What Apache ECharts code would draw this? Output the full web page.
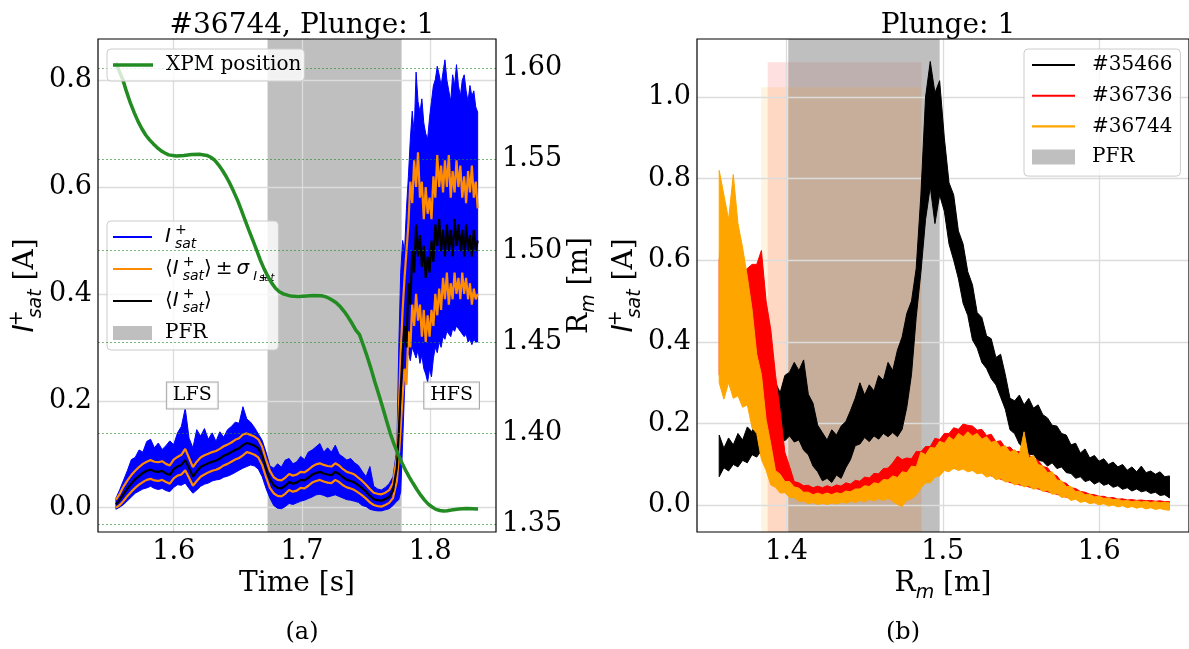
<!DOCTYPE html>
<html>
<head>
<meta charset="utf-8">
<script src="https://cdn.jsdelivr.net/npm/echarts@6/dist/echarts.min.js"></script>
<style>
  html, body { margin: 0; padding: 0; background: #fff; }
  #c { width: 1189px; height: 649px; }
</style>
</head>
<body>
<div id="c"></div>
<script>
// ---------- panel (a): ion saturation current of shot #36744, plunge 1 ----------
const tSec = [
  1.555,1.558,1.561,1.564,1.567,1.570,1.573,1.576,1.579,1.582,
  1.585,1.588,1.591,1.594,1.597,1.600,1.603,1.606,1.609,1.612,
  1.615,1.618,1.621,1.624,1.627,1.630,1.633,1.636,1.639,1.642,
  1.645,1.648,1.651,1.654,1.657,1.660,1.663,1.666,1.669,1.672,
  1.675,1.678,1.681,1.684,1.687,1.690,1.693,1.696,1.699,1.702,
  1.705,1.708,1.711,1.714,1.717,1.720,1.723,1.726,1.729,1.732,
  1.735,1.738,1.741,1.744,1.747,1.750,1.753,1.756,1.759,1.762,
  1.765,1.768,1.771,1.774,
  1.7755,1.777,1.7785,1.780,1.7815,1.783,1.7845,1.786,1.7875,1.789,
  1.7905,1.792,1.7935,1.795,1.7965,1.798,1.7995,1.801,1.8025,1.804,
  1.8055,1.807,1.8085,1.810,1.8115,1.813,1.8145,1.816,1.8175,1.819,
  1.8205,1.822,1.8235,1.825,1.8265,1.828,1.8295,1.831,1.8325,1.834,
  1.8355,1.837
];
// <I_sat>
const isatMean = [
  0.006,0.015,0.026,0.036,0.045,0.053,0.059,0.065,0.069,0.071,
  0.068,0.067,0.069,0.064,0.061,0.072,0.077,0.080,0.089,0.074,
  0.058,0.068,0.076,0.080,0.083,0.086,0.088,0.092,0.097,0.100,
  0.104,0.108,0.111,0.117,0.121,0.119,0.116,0.111,0.097,0.073,
  0.053,0.042,0.037,0.036,0.041,0.048,0.045,0.047,0.052,0.051,
  0.056,0.062,0.065,0.067,0.064,0.062,0.061,0.067,0.063,0.057,
  0.052,0.050,0.047,0.042,0.036,0.030,0.022,0.016,0.014,0.013,
  0.016,0.020,0.032,0.075,
  0.140,0.220,0.290,0.340,0.300,0.420,0.380,0.480,0.440,0.530,
  0.470,0.510,0.450,0.490,0.430,0.470,0.440,0.500,0.460,0.530,
  0.490,0.540,0.480,0.520,0.470,0.530,0.480,0.520,0.470,0.540,
  0.490,0.530,0.480,0.520,0.470,0.530,0.480,0.510,0.470,0.520,
  0.480,0.500
];
// <I_sat> + sigma
const isatUpper = [
  0.015,0.026,0.040,0.051,0.061,0.069,0.076,0.082,0.086,0.089,
  0.086,0.085,0.087,0.082,0.079,0.090,0.095,0.099,0.110,0.093,
  0.076,0.086,0.094,0.098,0.101,0.104,0.106,0.110,0.115,0.118,
  0.122,0.127,0.130,0.137,0.139,0.136,0.133,0.128,0.114,0.090,
  0.069,0.057,0.052,0.051,0.056,0.063,0.060,0.062,0.067,0.066,
  0.071,0.077,0.081,0.083,0.080,0.078,0.077,0.083,0.079,0.072,
  0.067,0.065,0.062,0.056,0.050,0.043,0.035,0.028,0.026,0.025,
  0.028,0.033,0.046,0.095,
  0.180,0.290,0.370,0.430,0.480,0.530,0.610,0.570,0.650,0.600,
  0.665,0.580,0.610,0.540,0.600,0.550,0.580,0.540,0.620,0.580,
  0.660,0.600,0.640,0.590,0.650,0.600,0.660,0.580,0.630,0.590,
  0.650,0.600,0.640,0.580,0.620,0.570,0.630,0.590,0.640,0.580,
  0.610,0.560
];
// <I_sat> - sigma
const isatLower = [
  0.000,0.005,0.013,0.022,0.030,0.037,0.043,0.048,0.052,0.054,
  0.051,0.050,0.052,0.048,0.045,0.055,0.060,0.062,0.070,0.056,
  0.041,0.050,0.058,0.062,0.066,0.069,0.071,0.074,0.079,0.082,
  0.086,0.090,0.093,0.098,0.104,0.102,0.099,0.094,0.080,0.057,
  0.037,0.027,0.022,0.021,0.026,0.033,0.030,0.032,0.037,0.036,
  0.041,0.047,0.050,0.052,0.049,0.047,0.046,0.052,0.048,0.042,
  0.038,0.036,0.033,0.028,0.023,0.017,0.010,0.005,0.003,0.002,
  0.005,0.009,0.018,0.050,
  0.095,0.150,0.210,0.260,0.230,0.330,0.300,0.380,0.340,0.400,
  0.350,0.380,0.320,0.370,0.310,0.360,0.320,0.370,0.340,0.400,
  0.360,0.410,0.370,0.430,0.390,0.440,0.380,0.420,0.390,0.440,
  0.400,0.430,0.390,0.440,0.400,0.430,0.390,0.420,0.380,0.410,
  0.390,0.400
];
// raw I_sat: upper and lower envelope of the fluctuating signal
const isatRawHi = [
  0.018,0.034,0.052,0.070,0.090,0.094,0.108,0.104,0.124,0.128,
  0.112,0.121,0.109,0.116,0.125,0.118,0.140,0.152,0.186,0.130,
  0.112,0.146,0.134,0.148,0.128,0.140,0.124,0.142,0.132,0.146,
  0.152,0.160,0.158,0.189,0.166,0.160,0.150,0.138,0.126,0.104,
  0.078,0.074,0.082,0.076,0.089,0.092,0.082,0.086,0.096,0.090,
  0.104,0.108,0.114,0.120,0.104,0.112,0.104,0.117,0.100,0.095,
  0.089,0.092,0.084,0.079,0.068,0.058,0.077,0.040,0.035,0.033,
  0.038,0.045,0.058,0.110,
  0.300,0.440,0.500,0.480,0.560,0.620,0.690,0.742,0.700,0.815,
  0.760,0.740,0.765,0.720,0.700,0.690,0.730,0.760,0.790,0.801,
  0.826,0.810,0.790,0.815,0.838,0.800,0.780,0.760,0.810,0.790,
  0.829,0.790,0.770,0.800,0.810,0.780,0.760,0.790,0.770,0.780,
  0.750,0.740
];
const isatRawLo = [
  -0.003,0.001,0.006,0.013,0.020,0.027,0.031,0.035,0.037,0.040,
  0.036,0.034,0.036,0.032,0.030,0.038,0.043,0.042,0.046,0.036,
  0.027,0.033,0.040,0.044,0.046,0.050,0.052,0.053,0.057,0.059,
  0.062,0.066,0.070,0.074,0.077,0.080,0.078,0.072,0.058,0.036,
  0.018,0.004,-0.001,-0.002,0.002,0.008,0.006,0.009,0.012,0.014,
  0.017,0.020,0.024,0.025,0.023,0.020,0.022,0.024,0.021,0.018,
  0.015,0.014,0.012,0.010,0.004,0.002,-0.003,-0.005,-0.006,-0.006,
  -0.004,-0.002,0.004,0.012,
  0.015,0.030,0.120,0.220,0.280,0.290,0.275,0.300,0.290,0.280,
  0.295,0.270,0.285,0.260,0.250,0.235,0.260,0.245,0.280,0.300,
  0.290,0.310,0.300,0.320,0.315,0.330,0.325,0.320,0.335,0.330,
  0.340,0.335,0.330,0.325,0.320,0.325,0.310,0.315,0.305,0.315,
  0.310,0.310
];
// reciprocating probe (XPM) major radius during the plunge
const xpmTime = [
  1.5550,1.5575,1.5604,1.5633,1.5663,1.5693,1.5723,1.5752,1.5782,1.5812,
  1.5842,1.5871,1.5901,1.5931,1.5961,1.6020,1.6080,1.6140,1.6200,1.6259,
  1.6289,1.6318,1.6348,1.6378,1.6408,1.6437,1.6467,1.6497,1.6527,1.6556,
  1.6586,1.6616,1.6646,1.6675,1.6705,1.6735,1.6765,1.6794,1.6824,1.6854,
  1.6914,1.6973,1.7033,1.7092,1.7152,1.7182,1.7211,1.7241,1.7271,1.7300,
  1.7330,1.7360,1.7390,1.7420,1.7449,1.7479,1.7509,1.7539,1.7568,1.7598,
  1.7628,1.7658,1.7688,1.7718,1.7747,1.7777,1.7807,1.7836,1.7866,1.7896,
  1.7926,1.7956,1.7985,1.8015,1.8045,1.8075,1.8104,1.8134,1.8164,1.8223,
  1.8283,1.8373
];
const xpmPos = [
  1.6030,1.5985,1.5936,1.5870,1.5808,1.5755,1.5707,1.5668,1.5634,1.5607,
  1.5585,1.5565,1.5548,1.5535,1.5525,1.5519,1.5521,1.5527,1.5528,1.5522,
  1.5512,1.5497,1.5472,1.5442,1.5408,1.5370,1.5325,1.5278,1.5224,1.5168,
  1.5113,1.5059,1.5004,1.4949,1.4900,1.4858,1.4822,1.4794,1.4775,1.4763,
  1.4751,1.4749,1.4752,1.4754,1.4753,1.4748,1.4739,1.4727,1.4712,1.4692,
  1.4666,1.4636,1.4602,1.4565,1.4540,1.4480,1.4419,1.4352,1.4282,1.4214,
  1.4145,1.4072,1.4000,1.3940,1.3889,1.3840,1.3798,1.3760,1.3725,1.3691,
  1.3660,1.3633,1.3611,1.3595,1.3582,1.3576,1.3573,1.3575,1.3578,1.3584,
  1.3587,1.3584
];
const pfrTime = [1.6732, 1.7777];          // private flux region crossing
const tickTime = [1.6, 1.7, 1.8];
const tickIsatA = [0.0, 0.2, 0.4, 0.6, 0.8];
const tickRmA = [1.35, 1.40, 1.45, 1.50, 1.55, 1.60];

// ---------- panel (b): I_sat profiles vs. major radius, plunge 1 ----------
const rGrid = [
  1.357,1.360,1.363,1.366,1.369,1.372,1.375,1.378,1.381,1.384,
  1.387,1.390,1.393,1.396,1.399,1.402,1.405,1.408,1.411,1.414,
  1.417,1.420,1.423,1.426,1.429,1.432,1.435,1.438,1.441,1.444,
  1.447,1.450,1.453,1.456,1.459,1.462,1.465,1.468,1.471,1.474,
  1.477,1.480,1.483,1.486,1.489,1.492,1.495,1.498,1.501,1.504,
  1.507,1.510,1.513,1.516,1.519,1.522,1.525,1.528,1.531,1.534,
  1.537,1.540,1.543,1.546,1.549,1.552,1.555,1.558,1.561,1.564,
  1.567,1.570,1.573,1.576,1.579,1.582,1.585,1.588,1.591,1.594,
  1.597,1.600,1.603,1.606,1.609,1.612,1.615,1.618,1.621,1.624,
  1.627,1.630,1.633,1.636,1.639,1.642,1.645
];
const shot35466Lo = [
  0.070,0.092,0.084,0.100,0.094,0.110,0.104,0.124,0.118,0.134,
  0.138,0.152,0.146,0.165,0.158,0.170,0.155,0.160,0.135,0.124,
  0.096,0.082,0.060,0.066,0.056,0.074,0.066,0.092,0.112,0.146,
  0.150,0.166,0.156,0.170,0.162,0.176,0.168,0.178,0.168,0.186,
  0.240,0.320,0.460,0.570,0.700,0.780,0.690,0.760,0.720,0.640,
  0.600,0.555,0.495,0.465,0.405,0.385,0.350,0.335,0.310,0.295,
  0.265,0.235,0.185,0.175,0.150,0.140,0.125,0.124,0.110,0.108,
  0.096,0.104,0.090,0.094,0.080,0.078,0.066,0.070,0.058,0.062,
  0.052,0.058,0.049,0.053,0.044,0.048,0.039,0.043,0.035,0.040,
  0.033,0.036,0.029,0.032,0.024,0.026,0.018
];
const shot35466Hi = [
  0.172,0.140,0.165,0.148,0.176,0.160,0.192,0.180,0.210,0.198,
  0.228,0.250,0.300,0.276,0.318,0.326,0.350,0.330,0.356,0.272,
  0.250,0.196,0.178,0.160,0.185,0.172,0.194,0.205,0.232,0.262,
  0.300,0.270,0.295,0.280,0.318,0.306,0.350,0.330,0.380,0.412,
  0.470,0.500,0.580,0.760,1.000,1.087,1.010,1.040,0.900,0.790,
  0.760,0.672,0.640,0.572,0.540,0.472,0.460,0.415,0.408,0.362,
  0.370,0.320,0.262,0.256,0.270,0.246,0.262,0.238,0.246,0.222,
  0.214,0.196,0.194,0.176,0.172,0.148,0.152,0.128,0.138,0.116,
  0.122,0.108,0.114,0.100,0.106,0.094,0.100,0.086,0.094,0.082,
  0.096,0.080,0.084,0.076,0.082,0.070,0.072
];
const shot36736Lo = [
  0.320,0.300,0.300,0.290,0.280,0.270,0.260,0.250,0.220,0.180,
  0.120,0.080,0.060,0.050,0.045,0.040,0.035,0.030,0.028,0.026,
  0.025,0.025,0.025,0.026,0.027,0.028,0.030,0.032,0.035,0.038,
  0.040,0.043,0.046,0.049,0.052,0.055,0.058,0.060,0.062,0.065,
  0.068,0.072,0.075,0.078,0.080,0.082,0.085,0.088,0.090,0.090,
  0.090,0.090,0.090,0.088,0.086,0.084,0.080,0.076,0.072,0.068,
  0.064,0.060,0.056,0.053,0.050,0.048,0.045,0.042,0.040,0.036,
  0.033,0.030,0.027,0.023,0.020,0.018,0.016,0.014,0.012,0.010,
  0.008,0.007,0.006,0.005,0.004,0.003,0.002,0.001,0.000,0.000,
  -0.001,-0.001,-0.002,-0.003,-0.003,-0.004,-0.005
];
const shot36736Hi = [
  0.600,0.720,0.600,0.650,0.570,0.570,0.580,0.590,0.590,0.624,
  0.500,0.430,0.320,0.230,0.130,0.095,0.058,0.055,0.048,0.049,
  0.043,0.047,0.043,0.048,0.044,0.050,0.047,0.055,0.052,0.061,
  0.059,0.069,0.067,0.078,0.077,0.090,0.091,0.104,0.120,0.112,
  0.116,0.114,0.132,0.131,0.144,0.144,0.164,0.161,0.176,0.176,
  0.190,0.186,0.199,0.196,0.194,0.184,0.186,0.171,0.174,0.156,
  0.158,0.141,0.143,0.131,0.132,0.121,0.124,0.114,0.110,0.095,
  0.092,0.077,0.072,0.057,0.054,0.043,0.041,0.034,0.032,0.027,
  0.026,0.022,0.022,0.018,0.019,0.015,0.016,0.013,0.014,0.012,
  0.013,0.011,0.012,0.010,0.011,0.009,0.009
];
const shot36744Lo = [
  0.300,0.260,0.300,0.262,0.268,0.240,0.246,0.190,0.176,0.112,
  0.086,0.050,0.044,0.030,0.031,0.019,0.019,0.010,0.010,0.004,
  0.007,0.002,0.005,0.002,0.006,0.003,0.008,0.005,0.010,0.007,
  0.012,0.009,0.014,0.011,0.016,0.012,0.017,0.010,0.002,-0.003,
  0.012,0.016,0.025,0.042,0.055,0.055,0.069,0.072,0.085,0.082,
  0.091,0.085,0.089,0.082,0.085,0.077,0.079,0.069,0.073,0.063,
  0.066,0.057,0.059,0.050,0.053,0.045,0.048,0.039,0.043,0.034,
  0.037,0.027,0.029,0.019,0.021,0.012,0.015,0.007,0.010,0.004,
  0.006,0.001,0.004,-0.002,0.001,-0.004,-0.001,-0.006,-0.003,-0.007,
  -0.004,-0.009,-0.006,-0.010,-0.008,-0.011,-0.012
];
const shot36744Hi = [
  0.820,0.760,0.700,0.810,0.690,0.630,0.560,0.480,0.370,0.320,
  0.210,0.150,0.085,0.076,0.058,0.058,0.045,0.042,0.032,0.032,
  0.026,0.030,0.026,0.030,0.026,0.031,0.028,0.035,0.033,0.040,
  0.040,0.048,0.046,0.055,0.053,0.063,0.062,0.072,0.068,0.082,
  0.080,0.096,0.094,0.130,0.124,0.142,0.140,0.157,0.152,0.168,
  0.160,0.176,0.168,0.180,0.170,0.176,0.162,0.168,0.154,0.158,
  0.142,0.146,0.130,0.136,0.124,0.180,0.116,0.122,0.100,0.096,
  0.080,0.082,0.062,0.060,0.046,0.046,0.034,0.034,0.026,0.027,
  0.021,0.022,0.017,0.018,0.014,0.015,0.011,0.012,0.009,0.011,
  0.008,0.010,0.007,0.009,0.006,0.008,0.006
];
// PFR extent per shot: [R start, R end] and, for the shaded boxes, their top
const pfr35466 = [1.4012, 1.4980];
const pfr36736 = [1.3880, 1.4864, 1.085];
const pfr36744 = [1.3839, 1.4864, 1.024];
const tickRm = [1.4, 1.5, 1.6];
const tickIsatB = [0.0, 0.2, 0.4, 0.6, 0.8, 1.0];

// ---------- styling helpers ----------
const SERIF = 'DejaVu Serif';
const SANS = 'DejaVu Sans';
const GRID_GRAY = '#dcdcdc';
const thinLine = 'path://M0,0H40V2H0Z';
const thickLine = 'path://M0,0H40V3.5H0Z';
const pairs = (xs, ys) => xs.map((x, i) => [x, ys[i]]);

function mathRich(size, lh) {
  const sub = Math.round(size * 0.68);
  const tiny = Math.round(size * 0.48);
  const lean = Math.round(size * 0.2);
  return {
    i:   { fontFamily: SANS, fontStyle: 'italic', fontSize: size, lineHeight: lh, color: '#000', padding: [0, lean, 0, 0] },
    n:   { fontFamily: SANS, fontSize: size, lineHeight: lh, color: '#000' },
    t:   { fontFamily: SERIF, fontSize: size, lineHeight: lh, color: '#000' },
    p:   { fontFamily: SANS, fontSize: sub, lineHeight: sub, verticalAlign: 'top', width: 0.01, color: '#000' },
    s:   { fontFamily: SANS, fontStyle: 'italic', fontSize: sub, lineHeight: sub, verticalAlign: 'bottom', color: '#000' },
    ss:  { fontFamily: SANS, fontStyle: 'italic', fontSize: sub - 1, lineHeight: Math.round(size * 0.9), verticalAlign: 'bottom', color: '#000', padding: [0, 2, 0, 0] },
    sp:  { fontFamily: SANS, fontSize: tiny, lineHeight: Math.round(size * 1.35), verticalAlign: 'bottom', width: 0.01, color: '#000' },
    sss: { fontFamily: SANS, fontStyle: 'italic', fontSize: tiny, lineHeight: Math.round(size * 0.35), verticalAlign: 'bottom', color: '#000' }
  };
}

// filled band between a lower and an upper envelope
function bandSeries(name, xs, lo, hi, color, xi, yi, z) {
  const rows = xs.map((x, i) => [x, lo[i], hi[i]]);
  return {
    type: 'custom', name, xAxisIndex: xi, yAxisIndex: yi, z,
    data: rows, encode: { x: 0, y: [1, 2] },
    itemStyle: { color }, silent: true, animation: false,
    renderItem(params, api) {
      if (params.dataIndex !== 0) return null;
      const top = rows.map(r => api.coord([r[0], r[2]]));
      const bottom = rows.map(r => api.coord([r[0], r[1]])).reverse();
      return {
        type: 'polygon',
        shape: { points: top.concat(bottom) },
        style: { fill: color, stroke: color, lineWidth: 1 }
      };
    }
  };
}

function lineSeries(name, xs, ys, color, width, xi, yi, z, extra) {
  return Object.assign({
    type: 'line', name, xAxisIndex: xi, yAxisIndex: yi, z,
    data: pairs(xs, ys), symbol: 'none', showSymbol: false,
    color, itemStyle: { color }, lineStyle: { color, width }, silent: true, animation: false
  }, extra || {});
}

function gridLineSeries(name, xi, yi, xs, ys, style, z) {
  return {
    type: 'line', name, xAxisIndex: xi, yAxisIndex: yi, data: [], silent: true, animation: false,
    markLine: {
      silent: true, animation: false, z, symbol: ['none', 'none'],
      label: { show: false }, emphasis: { disabled: true }, lineStyle: style,
      data: xs.map(v => ({ xAxis: v })).concat(ys.map(v => ({ yAxis: v })))
    }
  };
}

function spanSeries(name, xi, yi, from, to, color, z, yFrom, yTo) {
  const a = { xAxis: from }, b = { xAxis: to };
  if (yTo !== undefined) { a.yAxis = yFrom; b.yAxis = yTo; }
  return {
    type: 'line', name, xAxisIndex: xi, yAxisIndex: yi, data: [], color,
    itemStyle: { color }, lineStyle: { color }, silent: true, animation: false,
    markArea: {
      silent: true, z, animation: false, itemStyle: { color }, emphasis: { disabled: true },
      label: { show: false }, data: [[a, b]]
    }
  };
}

const tickLabel = (digits, values) => ({
  customValues: values, fontFamily: SERIF, fontSize: 27, color: '#000', margin: 6,
  formatter: v => Number(v).toFixed(digits)
});
const bare = { axisLine: { show: false }, axisTick: { show: false }, splitLine: { show: false } };
const axisName = (extra) => Object.assign({
  nameLocation: 'middle',
  nameTextStyle: { fontFamily: SERIF, fontSize: 28, color: '#000', rich: mathRich(28, 38) }
}, extra);

const isatName = '{i|I}{p|+}{s|sat}{t| [A]}';
const rmName = '{t|R}{s|m}{t| [m]}';

const legendFrame = {
  orient: 'vertical', selectedMode: false, symbolKeepAspect: true,
  backgroundColor: 'rgba(255,255,255,0.8)', borderColor: '#cccccc', borderWidth: 1, borderRadius: 4
};
const legendLabels = {
  'Isat': '{i|I}{p|+}{s|sat}',
  'Isat mean ± sigma': '{n|⟨}{i|I}{p|+}{s|sat}{n|⟩\u2009±\u2009}{i|σ}{ss|I}{sp|+}{sss|sat}',
  'Isat mean': '{n|⟨}{i|I}{p|+}{s|sat}{n|⟩}',
  'PFR': '{t|PFR}'
};

const option = {
  backgroundColor: '#fff',
  animation: false,
  textStyle: { fontFamily: SERIF },
  title: [
    { text: '#36744, Plunge: 1', left: 297, top: 7, textAlign: 'center',
      textStyle: { fontFamily: SERIF, fontSize: 28, fontWeight: 'normal', color: '#000' } },
    { text: 'Plunge: 1', left: 943, top: 7, textAlign: 'center',
      textStyle: { fontFamily: SERIF, fontSize: 28, fontWeight: 'normal', color: '#000' } }
  ],
  grid: [
    { left: 98, top: 39, width: 398, height: 493, show: true, z: 10,
      backgroundColor: 'transparent', borderColor: '#000', borderWidth: 1.2 },
    { left: 697, top: 39, width: 492, height: 493, show: true, z: 10,
      backgroundColor: 'transparent', borderColor: '#000', borderWidth: 1.2 }
  ],
  xAxis: [
    Object.assign({ type: 'value', gridIndex: 0, min: 1.541, max: 1.8513,
      axisLabel: tickLabel(1, tickTime), name: 'Time [s]' }, bare,
      axisName({ nameGap: 32 })),
    Object.assign({ type: 'value', gridIndex: 1, min: 1.3428, max: 1.6575,
      axisLabel: tickLabel(1, tickRm), name: rmName }, bare,
      axisName({ nameGap: 29 }))
  ],
  yAxis: [
    Object.assign({ type: 'value', gridIndex: 0, min: -0.0455, max: 0.877,
      axisLabel: tickLabel(1, tickIsatA), name: isatName }, bare,
      axisName({ nameRotate: 90, nameGap: 43 })),
    Object.assign({ type: 'value', gridIndex: 0, position: 'right', min: 1.3458, max: 1.616,
      axisLabel: tickLabel(2, tickRmA), name: rmName }, bare,
      axisName({ nameRotate: 90, nameGap: 62 })),
    Object.assign({ type: 'value', gridIndex: 1, min: -0.0654, max: 1.142,
      axisLabel: tickLabel(1, tickIsatB), name: isatName }, bare,
      axisName({ nameRotate: 90, nameGap: 43 }))
  ],
  legend: [
    Object.assign({}, legendFrame, {
      data: [{ name: 'XPM position', icon: thickLine }], left: 107, top: 49, padding: [3, 3, 3, 6],
      itemWidth: 40, itemHeight: 14, z: 9,
      textStyle: { fontFamily: SERIF, fontSize: 20, lineHeight: 26, color: '#000', padding: [0, 0, 0, 8] }
    }),
    Object.assign({}, legendFrame, {
      data: [{ name: 'Isat', icon: thinLine }, { name: 'Isat mean ± sigma', icon: thinLine },
             { name: 'Isat mean', icon: thinLine }, { name: 'PFR', icon: 'rect' }],
      left: 107, top: 221, padding: [2, 4, 3, 6], itemWidth: 39, itemHeight: 14, itemGap: 4, z: 6,
      formatter: name => legendLabels[name],
      textStyle: { fontFamily: SERIF, fontSize: 20, lineHeight: 28, color: '#000',
        padding: [0, 0, 0, 8], rich: mathRich(20, 28) }
    }),
    Object.assign({}, legendFrame, {
      data: [{ name: '#35466', icon: thinLine }, { name: '#36736', icon: thinLine },
             { name: '#36744', icon: thinLine }, { name: 'PFR', icon: 'rect' }],
      left: 1024, top: 49, padding: [3, 8, 6, 8], itemWidth: 43, itemHeight: 15, itemGap: 4.7, z: 9,
      textStyle: { fontFamily: SERIF, fontSize: 20, lineHeight: 26, color: '#000', padding: [0, 0, 0, 12] }
    })
  ],
  graphic: [
    { type: 'text', x: 302, y: 633, z: 20, silent: true,
      style: { text: '(a)', fontFamily: SERIF, fontSize: 24, fill: '#000', align: 'center', verticalAlign: 'middle' } },
    { type: 'text', x: 903, y: 633, z: 20, silent: true,
      style: { text: '(b)', fontFamily: SERIF, fontSize: 24, fill: '#000', align: 'center', verticalAlign: 'middle' } }
  ],
  series: [
    // ---- panel (a) ----
    spanSeries('PFR', 0, 0, pfrTime[0], pfrTime[1], '#bfbfbf', 1),
    gridLineSeries('gridA', 0, 0, tickTime, tickIsatA, { color: GRID_GRAY, width: 1.3, type: 'solid' }, 2),
    bandSeries('Isat', tSec, isatRawLo, isatRawHi, '#0000ff', 0, 0, 3),
    lineSeries('Isat mean ± sigma', tSec, isatUpper, '#ff8c00', 2.2, 0, 0, 4),
    lineSeries('Isat mean ± sigma', tSec, isatLower, '#ff8c00', 2.2, 0, 0, 4),
    lineSeries('Isat mean', tSec, isatMean, '#000000', 2.2, 0, 0, 5, {
      markPoint: {
        silent: true, z: 6, symbol: 'rect', symbolSize: 0, animation: false,
        label: {
          show: true, position: 'inside', formatter: p => p.name,
          fontFamily: SERIF, fontSize: 19, color: '#000',
          backgroundColor: 'rgba(255,255,255,0.8)', borderColor: '#aaaaaa', borderWidth: 1,
          padding: [4, 6, 3, 6]
        },
        data: [
          { name: 'LFS', coord: [1.6145, 0.21] },
          { name: 'HFS', coord: [1.8167, 0.21] }
        ]
      }
    }),
    gridLineSeries('gridRm', 0, 1, [], tickRmA,
      { color: 'rgba(34,139,34,0.75)', width: 0.8, type: [2, 2] }, 7),
    lineSeries('XPM position', xpmTime, xpmPos, '#228b22', 3.5, 0, 1, 7),

    // ---- panel (b) ----
    spanSeries('pfrBox36736', 1, 2, pfr36736[0], pfr36736[1], 'rgba(255,0,0,0.12)', 1, -0.0654, pfr36736[2]),
    spanSeries('PFR', 1, 2, pfr35466[0], pfr35466[1], 'rgba(128,128,128,0.5)', 2),
    spanSeries('pfrBox36744', 1, 2, pfr36744[0], pfr36744[1], 'rgba(255,165,0,0.12)', 3, -0.0654, pfr36744[2]),
    gridLineSeries('gridB', 1, 2, tickRm, tickIsatB, { color: GRID_GRAY, width: 1.3, type: 'solid' }, 4),
    bandSeries('#35466', rGrid, shot35466Lo, shot35466Hi, '#000000', 1, 2, 5),
    bandSeries('#36736', rGrid, shot36736Lo, shot36736Hi, '#ff0000', 1, 2, 6),
    bandSeries('#36744', rGrid, shot36744Lo, shot36744Hi, '#ffa500', 1, 2, 7)
  ]
};

const chart = echarts.init(document.getElementById('c'), null, { renderer: 'canvas' });
chart.setOption(option);
</script>
</body>
</html>
